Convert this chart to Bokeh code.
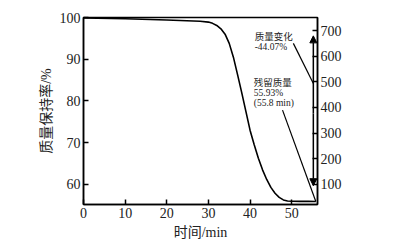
import math
from bokeh.plotting import figure
from bokeh.models import Range1d, LinearAxis, FixedTicker, Label, Arrow, NormalHead
from bokeh.core.properties import value
from bokeh.embed import file_html
from bokeh.resources import INLINE

# data
time_min = [0, 10, 20, 28, 30, 31, 32, 33, 34, 35, 36, 37, 38, 39, 40, 41, 42, 43, 44, 45, 46, 47, 48, 49, 50, 52, 54, 55.8]
mass_pct = [99.9, 99.7, 99.4, 99.1, 98.9, 98.6, 98.1, 97.3, 96.0, 93.8, 90.5, 86.3, 82.0, 77.5, 73.0, 69.5, 66.3, 63.5, 61.2, 59.3, 57.9, 56.9, 56.3, 56.05, 55.97, 55.95, 55.94, 55.93]
x_ticks = [0, 10, 20, 30, 40, 50]
y_ticks = [60, 70, 80, 90, 100]
t_ticks = [100, 200, 300, 400, 500, 600, 700]
residual_time = 55.8
residual_mass = 55.93
mass_change = -44.07

FONT = "Liberation Serif, Noto Sans CJK SC"

p = figure(width=403, height=251, output_backend="svg", toolbar_location=None,
           x_range=Range1d(0, 56.2), y_range=Range1d(55.2, 100))
p.min_border_left = 83
p.min_border_right = 86
p.min_border_top = 17
p.min_border_bottom = 47
p.background_fill_color = "white"
p.border_fill_color = "white"
p.outline_line_color = "black"
p.outline_line_width = 1.5
p.xgrid.visible = False
p.ygrid.visible = False

p.extra_y_ranges = {"temp": Range1d(20.4, 751.8)}
raxis = LinearAxis(y_range_name="temp")
p.add_layout(raxis, "right")

for ax, ticks in ((p.xaxis[0], x_ticks), (p.yaxis[0], y_ticks), (raxis, t_ticks)):
    ax.ticker = FixedTicker(ticks=ticks)
    ax.minor_tick_line_color = None
    ax.major_tick_in = 5
    ax.major_tick_out = 0
    ax.major_tick_line_width = 1.5
    ax.axis_line_width = 1.5
    ax.axis_line_color = "black"
    ax.major_tick_line_color = "black"
    ax.major_label_text_font = FONT
    ax.major_label_text_font_size = "14px"
    ax.major_label_text_color = "#222222"
    ax.major_label_standoff = 3
    ax.axis_label_text_font = FONT
    ax.axis_label_text_font_size = "14px"
    ax.axis_label_text_font_style = "normal"
    ax.axis_label_text_color = "#222222"

p.xaxis[0].axis_label = "时间/min"
p.xaxis[0].axis_label_standoff = 4
p.yaxis[0].axis_label = "质量保持率/%"
p.yaxis[0].axis_label_standoff = 3

p.add_layout(Label(x=68.6, y=76.6, text="温度/°C", angle=math.pi / 2,
                   text_align="center", text_baseline="middle",
                   text_font=FONT, text_font_size="14px", text_color="#222222"))

p.line(time_min, mass_pct, line_color="black", line_width=1.6)

# annotations
p.text(x=[41.1, 41.1], y=[96.6, 94.2], text=["质量变化", "%.2f%%" % mass_change],
       text_font=value(FONT), text_font_size="9.5px", text_baseline="top",
       text_align="left", text_color="#222222")
p.text(x=[40.9, 40.9, 40.9], y=[85.5, 83.1, 80.7],
       text=["残留质量", "%.2f%%" % residual_mass, "(%.1f min)" % residual_time],
       text_font=value(FONT), text_font_size="9.5px", text_baseline="top",
       text_align="left", text_color="#222222")
p.line([50.4, 55.2], [93.8, 84.2], line_color="black", line_width=1.2)
p.line([47.8, residual_time], [77.8, residual_mass], line_color="black", line_width=1.2)

p.add_layout(Arrow(x_start=55.2, y_start=77.0, x_end=55.2, y_end=95.6,
                   line_color="black", line_width=1.5,
                   end=NormalHead(size=7, fill_color="black", line_color="black")))
p.add_layout(Arrow(x_start=55.2, y_start=77.0, x_end=55.2, y_end=59.7,
                   line_color="black", line_width=1.5,
                   end=NormalHead(size=7, fill_color="black", line_color="black")))

open("out.html", "w").write(file_html(p, INLINE))
